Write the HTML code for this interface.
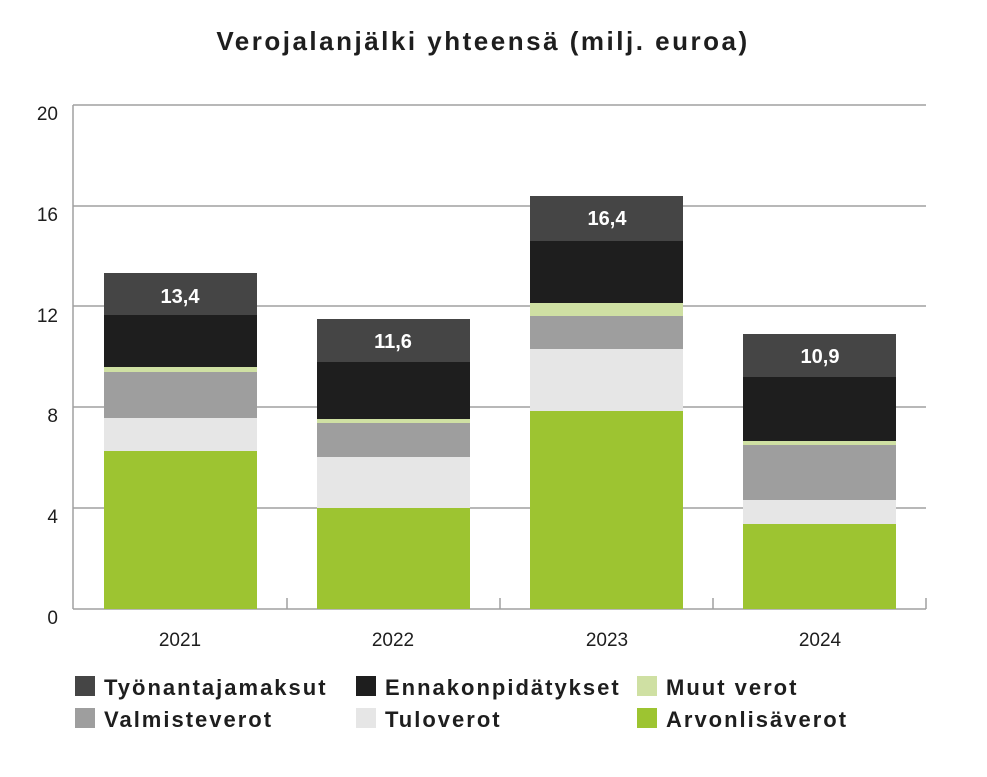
<!DOCTYPE html>
<html><head><meta charset="utf-8"><style>
body{margin:0;background:#fff;}
svg text{font-family:"Liberation Sans",sans-serif;}
</style></head><body>
<svg width="987" height="772" xmlns="http://www.w3.org/2000/svg">
<rect width="987" height="772" fill="#fff"/>
<text x="483" y="50" text-anchor="middle" font-size="26" font-weight="bold" fill="#1e1e1e" letter-spacing="2.5">Verojalanjälki yhteensä (milj. euroa)</text>
<g stroke="#a0a0a0" stroke-width="1.5">
<line x1="73" y1="105" x2="926" y2="105"/>
<line x1="73" y1="206" x2="926" y2="206"/>
<line x1="73" y1="306" x2="926" y2="306"/>
<line x1="73" y1="407" x2="926" y2="407"/>
<line x1="73" y1="508" x2="926" y2="508"/>
<line x1="73" y1="609" x2="926" y2="609"/>
<line x1="73" y1="105" x2="73" y2="609"/>
<line x1="287" y1="598" x2="287" y2="609"/>
<line x1="500" y1="598" x2="500" y2="609"/>
<line x1="713" y1="598" x2="713" y2="609"/>
<line x1="926" y1="598" x2="926" y2="609"/>
</g>
<g font-size="19" fill="#1e1e1e" text-anchor="end">
<text x="58" y="120">20</text>
<text x="58" y="221">16</text>
<text x="58" y="322">12</text>
<text x="58" y="422">8</text>
<text x="58" y="523">4</text>
<text x="58" y="624">0</text>
</g>
<g font-size="19" fill="#1e1e1e" text-anchor="middle">
<text x="180" y="646">2021</text>
<text x="393" y="646">2022</text>
<text x="607" y="646">2023</text>
<text x="820" y="646">2024</text>
</g>
<g>
<rect x="104" y="273" width="153" height="42" fill="#454545"/>
<rect x="104" y="315" width="153" height="52" fill="#1e1e1e"/>
<rect x="104" y="367" width="153" height="5" fill="#cfe0a3"/>
<rect x="104" y="372" width="153" height="46" fill="#9e9e9e"/>
<rect x="104" y="418" width="153" height="33" fill="#e6e6e6"/>
<rect x="104" y="451" width="153" height="158" fill="#9dc431"/>
</g>
<g>
<rect x="317" y="319" width="153" height="43" fill="#454545"/>
<rect x="317" y="362" width="153" height="57" fill="#1e1e1e"/>
<rect x="317" y="419" width="153" height="4" fill="#cfe0a3"/>
<rect x="317" y="423" width="153" height="34" fill="#9e9e9e"/>
<rect x="317" y="457" width="153" height="51" fill="#e6e6e6"/>
<rect x="317" y="508" width="153" height="101" fill="#9dc431"/>
</g>
<g>
<rect x="530" y="196" width="153" height="45" fill="#454545"/>
<rect x="530" y="241" width="153" height="62" fill="#1e1e1e"/>
<rect x="530" y="303" width="153" height="13" fill="#cfe0a3"/>
<rect x="530" y="316" width="153" height="33" fill="#9e9e9e"/>
<rect x="530" y="349" width="153" height="62" fill="#e6e6e6"/>
<rect x="530" y="411" width="153" height="198" fill="#9dc431"/>
</g>
<g>
<rect x="743" y="334" width="153" height="43" fill="#454545"/>
<rect x="743" y="377" width="153" height="64" fill="#1e1e1e"/>
<rect x="743" y="441" width="153" height="4" fill="#cfe0a3"/>
<rect x="743" y="445" width="153" height="55" fill="#9e9e9e"/>
<rect x="743" y="500" width="153" height="24" fill="#e6e6e6"/>
<rect x="743" y="524" width="153" height="85" fill="#9dc431"/>
</g>
<g font-size="20" font-weight="bold" fill="#fff" text-anchor="middle">
<text x="180" y="303">13,4</text>
<text x="393" y="348">11,6</text>
<text x="607" y="225">16,4</text>
<text x="820" y="363">10,9</text>
</g>
<g font-size="22" font-weight="bold" fill="#1e1e1e" letter-spacing="2">
<rect x="75" y="676" width="20" height="20" fill="#454545"/>
<text x="104" y="695">Työnantajamaksut</text>
<rect x="356" y="676" width="20" height="20" fill="#1e1e1e"/>
<text x="385" y="695">Ennakonpidätykset</text>
<rect x="637" y="676" width="20" height="20" fill="#cfe0a3"/>
<text x="666" y="695">Muut verot</text>
<rect x="75" y="708" width="20" height="20" fill="#9e9e9e"/>
<text x="104" y="727">Valmisteverot</text>
<rect x="356" y="708" width="20" height="20" fill="#e6e6e6"/>
<text x="385" y="727">Tuloverot</text>
<rect x="637" y="708" width="20" height="20" fill="#9dc431"/>
<text x="666" y="727">Arvonlisäverot</text>
</g>
</svg>
</body></html>
